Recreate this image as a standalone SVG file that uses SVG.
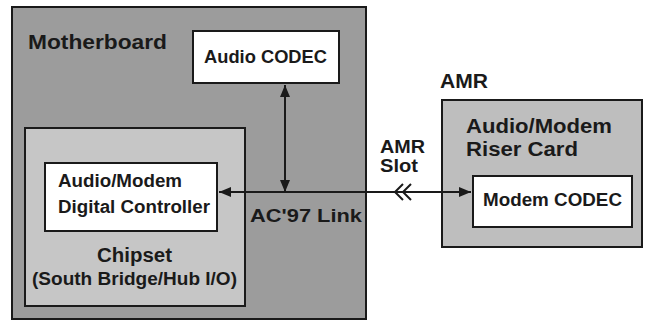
<svg xmlns="http://www.w3.org/2000/svg" width="648" height="321" viewBox="0 0 648 321">
  <style>
    .box { stroke: #1a1a1a; stroke-width: 2; }
    .board { fill: #9c9c9c; }
    .chip { fill: #c6c6c6; }
    .card { fill: #bebebe; }
    .white { fill: #ffffff; }
    text { font-family: "Liberation Sans", Arial, sans-serif; font-weight: bold; fill: #1a1a1a; }
    .big { font-size: 20px; }
    .mid { font-size: 18px; }
    .wire { stroke: #1a1a1a; stroke-width: 2; fill: none; }
  </style>
  <defs>
    <marker id="arrow" viewBox="0 0 12 10" refX="12" refY="5" markerWidth="12" markerHeight="10" markerUnits="userSpaceOnUse" orient="auto">
      <path d="M0,0 L12,5 L0,10 Z" fill="#1a1a1a"/>
    </marker>
  </defs>

  <g id="motherboard">
    <rect class="box board" x="12" y="7" width="354" height="312"/>
    <text class="big" x="28" y="49" textLength="139" lengthAdjust="spacingAndGlyphs">Motherboard</text>
  </g>

  <g id="audio-codec">
    <rect class="box white" x="193" y="31" width="146" height="52"/>
    <text class="mid" x="204" y="63" textLength="123" lengthAdjust="spacingAndGlyphs">Audio CODEC</text>
  </g>

  <g id="chipset">
    <rect class="box chip" x="25" y="128" width="220" height="178"/>
    <text class="big" x="97" y="262" textLength="75" lengthAdjust="spacingAndGlyphs">Chipset</text>
    <text class="mid" x="32" y="285" textLength="205" lengthAdjust="spacingAndGlyphs">(South Bridge/Hub I/O)</text>
  </g>

  <g id="digital-controller">
    <rect class="box white" x="45" y="163" width="172" height="68"/>
    <text class="mid" x="58" y="187" textLength="124" lengthAdjust="spacingAndGlyphs">Audio/Modem</text>
    <text class="mid" x="58" y="213" textLength="152" lengthAdjust="spacingAndGlyphs">Digital Controller</text>
  </g>

  <g id="amr">
    <text class="big" x="440" y="88" textLength="48" lengthAdjust="spacingAndGlyphs">AMR</text>
    <rect class="box card" x="442" y="100" width="200" height="147"/>
    <text class="big" x="466" y="133" textLength="146" lengthAdjust="spacingAndGlyphs">Audio/Modem</text>
    <text class="big" x="466" y="156" textLength="112" lengthAdjust="spacingAndGlyphs">Riser Card</text>
  </g>

  <g id="modem-codec">
    <rect class="box white" x="473" y="176" width="159" height="51"/>
    <text class="mid" x="483" y="206" textLength="139" lengthAdjust="spacingAndGlyphs">Modem CODEC</text>
  </g>

  <g id="connectors">
    <!-- AC'97 link between controller and modem codec -->
    <line class="wire" x1="247" y1="192" x2="219" y2="192" marker-end="url(#arrow)"/>
    <line class="wire" x1="247" y1="192" x2="471" y2="192" marker-end="url(#arrow)"/>
    <!-- tap up to the audio codec -->
    <line class="wire" x1="285" y1="178" x2="285" y2="85" marker-end="url(#arrow)"/>
    <line class="wire" x1="285" y1="120" x2="285" y2="192" marker-end="url(#arrow)"/>
    <!-- slot symbol -->
    <path class="wire" d="M403,184 L395,192 L403,200 M411,184 L403,192 L411,200" stroke-width="1.6"/>
    <text class="mid" x="250" y="222" fill="#2a2a2a" textLength="112" lengthAdjust="spacingAndGlyphs">AC'97 Link</text>
    <text class="mid" x="380" y="153" textLength="45" lengthAdjust="spacingAndGlyphs">AMR</text>
    <text class="mid" x="380" y="172" textLength="38" lengthAdjust="spacingAndGlyphs">Slot</text>
  </g>
</svg>
